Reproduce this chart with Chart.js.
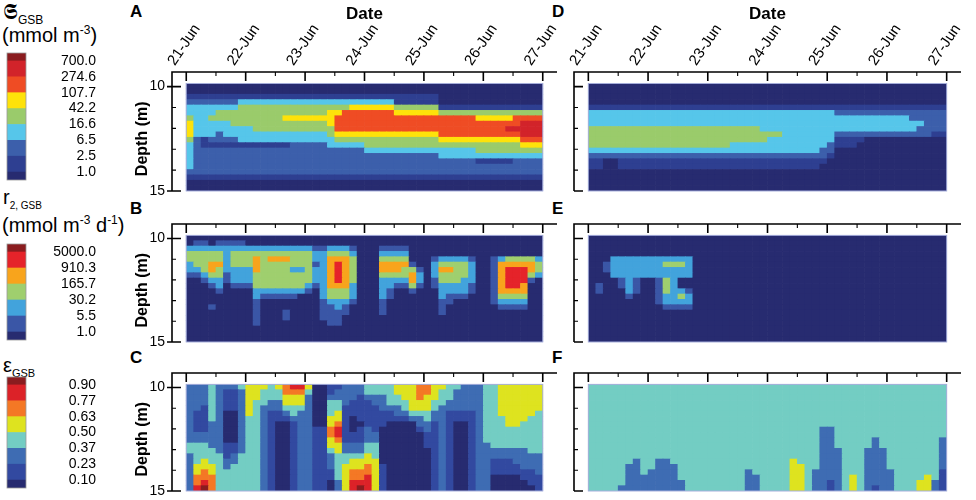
<!DOCTYPE html>
<html>
<head>
<meta charset="utf-8">
<script src="https://cdn.jsdelivr.net/npm/chart.js@4.4.1/dist/chart.umd.min.js"></script>
<style>
  html, body { margin: 0; padding: 0; background: #fff; }
  body { width: 976px; height: 500px; position: relative; overflow: hidden;
         font-family: 'Liberation Sans', Arial, sans-serif; color: #000; }
  .box { position: absolute; }
  .letter { position: absolute; font-weight: bold; font-size: 17px; line-height: 1; }
  .ttl { position: absolute; font-size: 20px; line-height: 1; white-space: nowrap; }
  .ttl .sb { position: relative; top: 5px; }
  .ttl .sp { position: relative; top: -8px; font-size: 12px; }
  .frak { font-family: 'DejaVu Sans', 'DejaVu Serif', serif; font-size: 22px; }
</style>
</head>
<body>

<div class="ttl" style="left:3px;top:1px"><span class="frak">&#x1D57E;</span><span class="sb" style="font-size:12px">GSB</span></div>
<div class="ttl" style="left:2px;top:25px">(mmol m<span class="sp">-3</span>)</div>
<div class="ttl" style="left:3px;top:187px">r<span class="sb" style="font-size:10px">2, GSB</span></div>
<div class="ttl" style="left:2px;top:215px">(mmol m<span class="sp">-3</span> d<span class="sp">-1</span>)</div>
<div class="ttl" style="left:3px;top:355px">&epsilon;<span class="sb" style="font-size:11px">GSB</span></div>

<div class="letter" style="left:130px;top:3px">A</div>
<div class="letter" style="left:130px;top:200px">B</div>
<div class="letter" style="left:130px;top:349px">C</div>
<div class="letter" style="left:552px;top:3px">D</div>
<div class="letter" style="left:552px;top:200px">E</div>
<div class="letter" style="left:552px;top:349px">F</div>

<script>
// ---- axis values ----
const DATE_LABELS = ['21-Jun', '22-Jun', '23-Jun', '24-Jun', '25-Jun', '26-Jun', '27-Jun'];
const DAY_TICKS = [0, 1, 2, 3, 4, 5, 6];
const DEPTH_TICKS = [10, 15];
const DEPTH_TOP = 9.85;     // top of the sampled layer (m)
const DEPTH_BOTTOM = 15;
const DAYS = 6;

// ---- colour classes (legend boundaries) ----
const S_LEVELS = ['1.0', '2.5', '6.5', '16.6', '42.2', '107.7', '274.6', '700.0'];
const R_LEVELS = ['1.0', '5.5', '30.2', '165.7', '910.3', '5000.0'];
const E_LEVELS = ['0.10', '0.23', '0.37', '0.50', '0.63', '0.77', '0.90'];

const S_COLORS = ['#272b70', '#2e3f91', '#3c5fab', '#56c6ea', '#9acb6b', '#fee20a', '#ef4c24', '#d2232a', '#8a1c1f'];
const R_COLORS = ['#272b70', '#3a56a6', '#42a3dc', '#9fcf6e', '#f8a41c', '#e5232a', '#8a1c1f'];
const E_COLORS = ['#272b70', '#3249a0', '#3e6cb3', '#73cdc3', '#dee31f', '#f47825', '#dc2228', '#8a1c1f'];

// ---- class index per cell: one string per depth row (top -> bottom), one char per 3 h ----
const cellsA = [
  '000000000000000000000000000000000000000000000000',
  '000000000000000000000000000000000000000000000000',
  '111111111111111111111111111111111100000000000000',
  '222222233333333333333333333311111100000000000000',
  '333333344444444444444455555544444411111111111111',
  '333344444444444444455666666655555544444444444444',
  '433444444444455555556666666666666666666555556666',
  '533333444444444444456666666666666666666666666777',
  '533333333444444444446666666666666666666666677777',
  '533323333333333333345555555555555566666666666777',
  '421222233333333333334444444444444455555555555666',
  '321111111111112222233333444444444444444444444555',
  '322222222222222222222222333333333333333444444444',
  '322222222222222222222222222222222233333333333333',
  '322222222222222222222222222222222222222111112222',
  '322222222222222222222222222222222222222222222222',
  '222222222222222222222222222222222222222222222222',
  '111111111111111111111111111111111111111111111111',
  '000000000000000000000000000000000000000000000000',
  '000000000000000000000000000000000000000000000000'
];

const cellsB = [
  '000000000000000000000000000000000000000000000000',
  '011011110000000000000000000000000000000000000000',
  '222222222222222221122210001111000000000000000000',
  '333332333333333332233320002222000000000000000000',
  '333332333434443332244430003333000122221001233332',
  '233442333433333331245430004444100233332001444443',
  '223432222433332232245430004443310244332001455543',
  '112331222333333332245430003333420233332001455532',
  '001221222333333332245430002222420133322001455510',
  '000120111333333321244420002211310122221001455400',
  '000010000222222210233320002100100022221001444400',
  '000000000211111000233320002100000021110001333300',
  '000000000100000000122210001000000011000001222200',
  '000100000100000000112100001000000010000000111100',
  '000000000100010000111100001000000010000000000000',
  '000000000100010000111000000000000000000000000000',
  '000000000100000000011000000000000000000000000000',
  '000000000000000000000000000000000000000000000000',
  '000000000000000000000000000000000000000000000000',
  '000000000000000000000000000000000000000000000000'
];

const cellsC = [
  '222322234443456640011222333344455443322233444444',
  '222321124433355530012222333344455433222233444444',
  '222321124433344420022221222334454433222233444444',
  '222321124332244420033211122333444332222233444444',
  '221321124322233320033111112223444322222233444444',
  '211320024321123220034111111122333221111233444443',
  '211320023321112220044101111111223221111233344433',
  '211220023321001220045100111000022121001233344333',
  '211220023321001221156101210000012121001233333333',
  '222220023321001221156111220000001121001233333333',
  '222220023321001221145111220000001121001233333333',
  '333221123321001221144222330000001121001223333333',
  '333321123321001221134222330000000121001222222233',
  '233331233321001221123333430000000121001222222222',
  '234332233321001221123344440000000121001221112222',
  '244432333321001221123444541000000121001221111222',
  '245433333321001221113455541000000121001221111112',
  '255533333321001221113455641000000121001220000111',
  '256533333321001221102466641000000121001220000011',
  '267533333321001221102467641000000121001220000001'
];

const cellsD = [
  '000000000000000000000000000000000000000000000000',
  '000000000000000000000000000000000000000000000000',
  '000000000000000000000000000000000000000000000000',
  '000000000000000000000000000000000000000000000000',
  '111111111111111111111111111111111111111111111111',
  '333333333333333333333333333333333222222222222222',
  '333333333333333333333333333333333333333333322222',
  '333333333333333333333333333333333333333333333222',
  '444444444444444444444443333333333333333333332222',
  '444444444444444444444444443333333222222222222211',
  '444444444444444444444444333333333111100000000000',
  '444444444444444444433333333333332111000000000000',
  '333333333333333333333333333333322000000000000000',
  '222222222222222222222222222222221000000000000000',
  '110011111111111111111111111111110000000000000000',
  '110011111111111111111111111111100000000000000000',
  '000000000000000000000000000000000000000000000000',
  '000000000000000000000000000000000000000000000000',
  '000000000000000000000000000000000000000000000000',
  '000000000000000000000000000000000000000000000000'
];

const cellsE = [
  '000000000000000000000000000000000000000000000000',
  '000000000000000000000000000000000000000000000000',
  '000000000000000000000000000000000000000000000000',
  '000000000000000000000000000000000000000000000000',
  '000222222222220000000000000000000000000000000000',
  '001222222233320000000000000000000000000000000000',
  '001222222222220000000000000000000000000000000000',
  '000222222222220000000000000000000000000000000000',
  '000012100132000000000000000000000000000000000000',
  '010012100132000000000000000000000000000000000000',
  '010002100132210000000000000000000000000000000000',
  '000001000122320000000000000000000000000000000000',
  '000000000122220000000000000000000000000000000000',
  '000000000011110000000000000000000000000000000000',
  '000000000000000000000000000000000000000000000000',
  '000000000000000000000000000000000000000000000000',
  '000000000000000000000000000000000000000000000000',
  '000000000000000000000000000000000000000000000000',
  '000000000000000000000000000000000000000000000000',
  '000000000000000000000000000000000000000000000000'
];

const cellsF = [
  '333333333333333333333333333333333333333333333333',
  '333333333333333333333333333333333333333333333333',
  '333333333333333333333333333333333333333333333333',
  '333333333333333333333333333333333333333333333333',
  '333333333333333333333333333333333333333333333333',
  '333333333333333333333333333333333333333333333333',
  '333333333333333333333333333333333333333333333333',
  '333333333333333333333333333333333333333333333333',
  '333333333333333333333333333333322333333333333333',
  '333333333333333333333333333333322333333333333333',
  '333333333333333333333333333333322333332333333332',
  '333333333333333333333333333333322333332333333332',
  '333333333333333333333333333333322233322233333332',
  '333333333333333333333333333333322233322233333332',
  '333333233223333333333333333433322233322233333332',
  '333332233222333333333333333443322233322233333332',
  '333332232222333333333233333443222233322223333331',
  '333332222222333333333223333443222234322223333431',
  '333332222222233333333223333443221234322223334421',
  '333322222222233333333223333443221234321223334421'
];

// ---- layout of the six panels ----
const PANELS = [
  { id: 'A', cells: cellsA, colors: S_COLORS, side: 'left',  frameTop: 72,  frameBottom: 191, labels: true },
  { id: 'B', cells: cellsB, colors: R_COLORS, side: 'left',  frameTop: 224, frameBottom: 342, labels: false },
  { id: 'C', cells: cellsC, colors: E_COLORS, side: 'left',  frameTop: 373, frameBottom: 491, labels: false },
  { id: 'D', cells: cellsD, colors: S_COLORS, side: 'right', frameTop: 72,  frameBottom: 191, labels: true },
  { id: 'E', cells: cellsE, colors: R_COLORS, side: 'right', frameTop: 224, frameBottom: 342, labels: false },
  { id: 'F', cells: cellsF, colors: E_COLORS, side: 'right', frameTop: 373, frameBottom: 491, labels: false }
];

const FONT = "'Liberation Sans', Arial, sans-serif";
Chart.defaults.font.family = FONT;
Chart.defaults.color = '#000';

// L-shaped axes with inward ticks, the thin outline round the data field,
// and the depth title centred between the 10 m and 15 m labels
const framePlugin = {
  id: 'frame',
  afterDatasetsDraw(chart) {
    const { ctx, chartArea: a } = chart;
    const x = chart.scales.x, y = chart.scales.y;
    const leftSide = chart.options.scales.y.display;
    const x0 = x.getPixelForValue(0), x1 = x.getPixelForValue(DAYS);
    const y0 = y.getPixelForValue(DEPTH_TOP), y1 = y.getPixelForValue(DEPTH_BOTTOM);
    ctx.save();
    ctx.strokeStyle = '#a7afdc';
    ctx.lineWidth = 1;
    ctx.strokeRect(x0, y0, x1 - x0, y1 - y0);

    ctx.strokeStyle = '#000';
    ctx.lineWidth = 1.6;
    ctx.beginPath();
    ctx.moveTo(a.left, a.bottom);
    ctx.lineTo(a.left, a.top);
    ctx.lineTo(a.right, a.top);
    DAY_TICKS.forEach(d => {
      const px = x.getPixelForValue(d);
      ctx.moveTo(px, a.top);
      ctx.lineTo(px, a.top + 9);
    });
    DEPTH_TICKS.forEach(m => {
      const py = y.getPixelForValue(m);
      ctx.moveTo(a.left - (leftSide ? 5 : 0), py);
      ctx.lineTo(a.left + 9, py);
    });
    ctx.stroke();

    // half-day and 1 m minor ticks
    ctx.lineWidth = 1.1;
    ctx.beginPath();
    DAY_TICKS.slice(1).forEach(d => {
      const px = x.getPixelForValue(d - 0.5);
      ctx.moveTo(px, a.top);
      ctx.lineTo(px, a.top + 4);
    });
    [11, 12, 13, 14].forEach(m => {
      const py = y.getPixelForValue(m);
      ctx.moveTo(a.left, py);
      ctx.lineTo(a.left + 4, py);
    });
    ctx.stroke();

    if (leftSide) {
      const cy = (y.getPixelForValue(DEPTH_TICKS[0]) + y.getPixelForValue(DEPTH_TICKS[1])) / 2;
      ctx.translate(a.left - 29, cy);
      ctx.rotate(-Math.PI / 2);
      ctx.font = 'bold 16px ' + FONT;
      ctx.fillStyle = '#000';
      ctx.textAlign = 'center';
      ctx.textBaseline = 'middle';
      ctx.fillText('Depth (m)', 0, 0);
    }
    ctx.restore();
  }
};

function makePanel(p) {
  const leftSide = p.side === 'left';
  const axisH = p.labels ? 72 : 14;
  const boxLeft = leftSide ? 130 : 562;
  const boxW = leftSide ? 440 : 414;
  const top = p.frameTop - axisH;
  const box = document.createElement('div');
  box.className = 'box';
  box.style.cssText = `left:${boxLeft}px;top:${top}px;width:${boxW}px;height:${p.frameBottom - top + 9}px`;
  const canvas = document.createElement('canvas');
  box.appendChild(canvas);
  document.body.appendChild(box);

  const rows = p.cells.length;
  const cols = p.cells[0].length;
  const rowH = (DEPTH_BOTTOM - DEPTH_TOP) / rows;
  const colW = DAYS / cols;
  const data = [];
  const colors = [];
  p.cells.forEach((row, i) => {
    for (let j = 0; j < cols; j++) {
      data.push({ x: (j + 0.5) * colW, y: [DEPTH_TOP + i * rowH, DEPTH_TOP + (i + 1) * rowH] });
      colors.push(p.colors[+row[j]]);
    }
  });

  new Chart(canvas, {
    type: 'bar',
    data: {
      datasets: [{
        data: data,
        backgroundColor: colors,
        borderWidth: 0,
        borderSkipped: false,
        barPercentage: 1,
        categoryPercentage: 1
      }]
    },
    options: {
      responsive: true,
      maintainAspectRatio: false,
      animation: false,
      events: [],
      layout: { padding: { left: leftSide ? 0 : 12, right: leftSide ? 13 : 15, top: 0, bottom: 9 } },
      plugins: { legend: { display: false }, tooltip: { enabled: false } },
      scales: {
        x: {
          type: 'linear',
          position: 'top',
          min: -0.24,
          max: 6.24,
          offset: false,
          afterBuildTicks: s => { s.ticks = DAY_TICKS.map(v => ({ value: v })); },
          afterFit: s => { s.height = axisH; s.paddingLeft = 0; s.paddingRight = 0; },
          grid: { display: false, drawTicks: false },
          border: { display: false },
          ticks: {
            display: p.labels,
            autoSkip: false,
            minRotation: 56,
            maxRotation: 56,
            padding: 3,
            font: { size: 15 },
            callback: v => DATE_LABELS[v]
          },
          title: {
            display: p.labels,
            text: 'Date',
            font: { size: 17, weight: 'bold' },
            padding: { top: 4, bottom: 0 }
          }
        },
        y: {
          type: 'linear',
          display: leftSide,
          reverse: true,
          min: 9.3,
          max: 15,
          afterBuildTicks: s => { s.ticks = DEPTH_TICKS.map(v => ({ value: v })); },
          afterFit: s => { s.width = leftSide ? 42 : 0; s.paddingTop = 0; s.paddingBottom = 0; },
          grid: { display: false, drawTicks: false },
          border: { display: false },
          ticks: { autoSkip: false, padding: 7, font: { size: 14 }, callback: v => String(v) },
          title: { display: false }
        }
      }
    },
    plugins: [framePlugin]
  });
}

const outlinePlugin = {
  id: 'outline',
  afterDatasetsDraw(chart) {
    const { ctx, chartArea: a } = chart;
    ctx.save();
    ctx.strokeStyle = '#9a9a9a';
    ctx.lineWidth = 0.8;
    ctx.strokeRect(a.left, a.top, a.right - a.left, a.bottom - a.top);
    ctx.restore();
  }
};

function makeColorbar(colors, labels, top, height) {
  const n = colors.length;
  const box = document.createElement('div');
  box.className = 'box';
  box.style.cssText = `left:0px;top:${top}px;width:96px;height:${height}px`;
  const canvas = document.createElement('canvas');
  box.appendChild(canvas);
  document.body.appendChild(box);

  // the two end classes are drawn half height, as in the figure
  const datasets = colors.map((c, k) => ({
    data: [[k === 0 ? -0.5 : k - 1, k === n - 1 ? n - 1.5 : k]],
    backgroundColor: c,
    borderWidth: 0,
    grouped: false,
    barPercentage: 1,
    categoryPercentage: 1
  }));

  new Chart(canvas, {
    type: 'bar',
    data: { labels: [''], datasets: datasets },
    options: {
      responsive: true,
      maintainAspectRatio: false,
      animation: false,
      events: [],
      layout: { padding: { left: 7, top: 8, bottom: 10, right: 0 } },
      plugins: { legend: { display: false }, tooltip: { enabled: false } },
      scales: {
        x: { display: false },
        y: {
          position: 'right',
          min: -0.5,
          max: n - 1.5,
          afterBuildTicks: s => { s.ticks = labels.map((_, k) => ({ value: k })); },
          afterFit: s => { s.width = 70; s.paddingTop = 0; s.paddingBottom = 0; },
          grid: { display: false },
          border: { display: false },
          ticks: {
            autoSkip: false,
            crossAlign: 'far',
            padding: 10,
            font: { size: 14 },
            callback: v => labels[v]
          }
        }
      }
    },
    plugins: [outlinePlugin]
  });
}

PANELS.forEach(makePanel);
makeColorbar(S_COLORS, S_LEVELS, 45, 145);
makeColorbar(R_COLORS, R_LEVELS, 236, 114);
makeColorbar(E_COLORS, E_LEVELS, 369, 129);
</script>
</body>
</html>
